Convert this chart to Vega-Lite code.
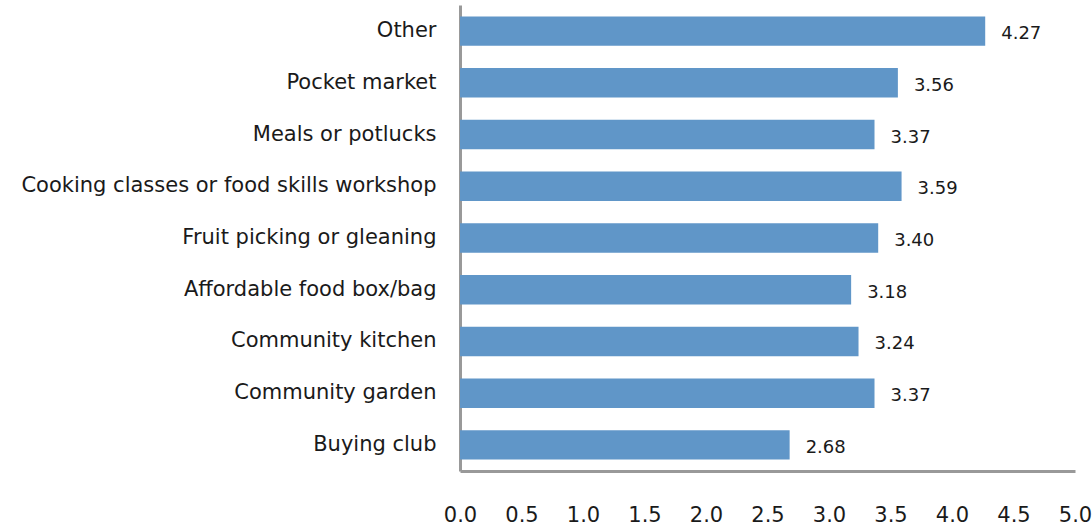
{
  "$schema": "https://vega.github.io/schema/vega-lite/v6.json",
  "width": 615,
  "height": 466,
  "autosize": {"type": "none"},
  "padding": {"left": 460, "top": 5, "right": 17, "bottom": 57},
  "background": "white",
  "config": {"view": {"stroke": null}, "font": "DejaVu Sans"},
  "data": {"values": [
    {"activity": "Other", "score": 4.27},
    {"activity": "Pocket market", "score": 3.56},
    {"activity": "Meals or potlucks", "score": 3.37},
    {"activity": "Cooking classes or food skills workshop", "score": 3.59},
    {"activity": "Fruit picking or gleaning", "score": 3.40},
    {"activity": "Affordable food box/bag", "score": 3.18},
    {"activity": "Community kitchen", "score": 3.24},
    {"activity": "Community garden", "score": 3.37},
    {"activity": "Buying club", "score": 2.68}
  ]},
  "encoding": {
    "y": {"field": "activity", "type": "nominal", "sort": null,
      "scale": {"paddingInner": 0.43, "paddingOuter": 0.22},
      "axis": {"title": null, "ticks": false, "domainColor": "#999999", "domainWidth": 3, "labelFontSize": 21, "labelColor": "#1a1a1a", "labelPadding": 24, "labelFont": "DejaVu Sans", "labelLimit": 500}},
    "x": {"field": "score", "type": "quantitative",
      "scale": {"domain": [0, 5]},
      "axis": {"title": null, "ticks": false, "grid": false, "values": [0,0.5,1,1.5,2,2.5,3,3.5,4,4.5,5], "format": ".1f", "domainColor": "#999999", "domainWidth": 3, "labelFontSize": 21, "labelColor": "#1a1a1a", "labelPadding": 33, "labelFlush": false, "labelFont": "DejaVu Sans"}}
  },
  "layer": [
    {"mark": {"type": "bar", "color": "#6096C8"}},
    {"mark": {"type": "text", "align": "left", "dx": 16, "dy": 3, "fontSize": 18, "color": "#1a1a1a"},
     "encoding": {"text": {"field": "score", "type": "quantitative", "format": ".2f"}}}
  ]
}
